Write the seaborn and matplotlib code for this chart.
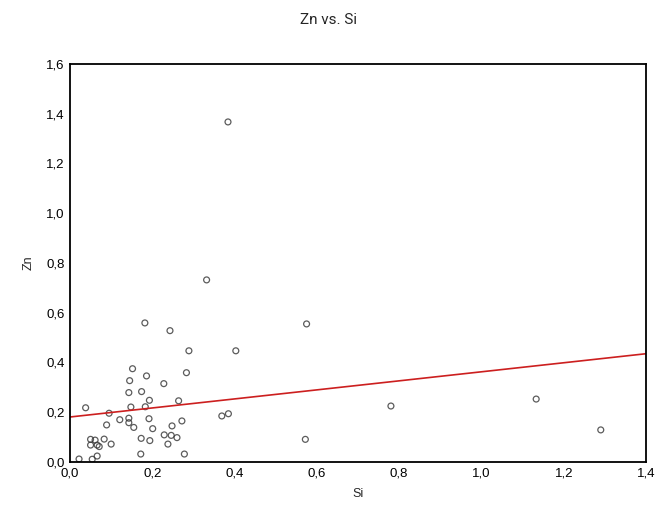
import matplotlib
matplotlib.use("Agg")
import matplotlib.pyplot as plt
import matplotlib.ticker as mticker
import seaborn as sns
import pandas as pd
import numpy as np

si = [0.038, 0.095, 0.050, 0.061, 0.050, 0.066, 0.071, 0.083, 0.100, 0.089,
      0.121, 0.143, 0.143, 0.155, 0.148, 0.143, 0.145, 0.152, 0.186, 0.174,
      0.193, 0.183, 0.192, 0.201, 0.173, 0.194, 0.172, 0.228, 0.229, 0.246,
      0.260, 0.238, 0.248, 0.272, 0.264, 0.283, 0.289, 0.243, 0.278, 0.022,
      0.054, 0.066, 0.332, 0.403, 0.575, 0.369, 0.385, 0.572, 0.182, 0.384,
      0.780, 1.133, 1.290]
zn = [0.218, 0.196, 0.091, 0.088, 0.068, 0.068, 0.062, 0.092, 0.072, 0.149,
      0.170, 0.176, 0.158, 0.139, 0.221, 0.279, 0.327, 0.375, 0.346, 0.283,
      0.248, 0.222, 0.174, 0.134, 0.095, 0.086, 0.032, 0.315, 0.109, 0.107,
      0.098, 0.072, 0.145, 0.165, 0.246, 0.359, 0.447, 0.528, 0.032, 0.012,
      0.011, 0.024, 0.732, 0.447, 0.555, 0.185, 0.194, 0.091, 0.559, 1.367,
      0.225, 0.253, 0.129]

df = pd.DataFrame({"Si": si, "Zn": zn})

sns.set_theme(style="white")
plt.rcParams['font.family'] = ['Liberation Sans', 'DejaVu Sans']

fig = plt.figure(figsize=(6.56, 5.11), dpi=100)
ax = fig.add_axes([0.1067, 0.0959, 0.8781, 0.7789])
ax.set_xlim(0, 1.4)
ax.set_ylim(0, 1.6)

sns.regplot(data=df, x="Si", y="Zn", ax=ax, ci=None, truncate=False,
            scatter_kws=dict(s=18, facecolors="none", edgecolors="#333333", linewidths=0.9),
            line_kws=dict(color="#cc1f1f", lw=1.2), marker="o")

ax.set_xlim(0, 1.4)
ax.set_ylim(0, 1.6)
ax.set_xticks(np.arange(0, 1.41, 0.2))
ax.set_yticks(np.arange(0, 1.61, 0.2))
fmt = mticker.FuncFormatter(lambda v, p: f"{v:.1f}".replace(".", ","))
ax.xaxis.set_major_formatter(fmt)
ax.yaxis.set_major_formatter(fmt)
ax.tick_params(direction="in", length=3, width=1, colors="black", labelsize=9.5, pad=4)
for sp in ax.spines.values():
    sp.set_color("black")
    sp.set_linewidth(1.3)
ax.set_xlabel("Si", fontsize=9, labelpad=6)
ax.set_ylabel("Zn", fontsize=9, labelpad=8)
fig.text(0.5, 0.96, "Zn vs. Si", ha="center", va="center", fontsize=11,
         family=["Roboto", "DejaVu Sans"])

fig.savefig("out.png", dpi=100, facecolor="white")
